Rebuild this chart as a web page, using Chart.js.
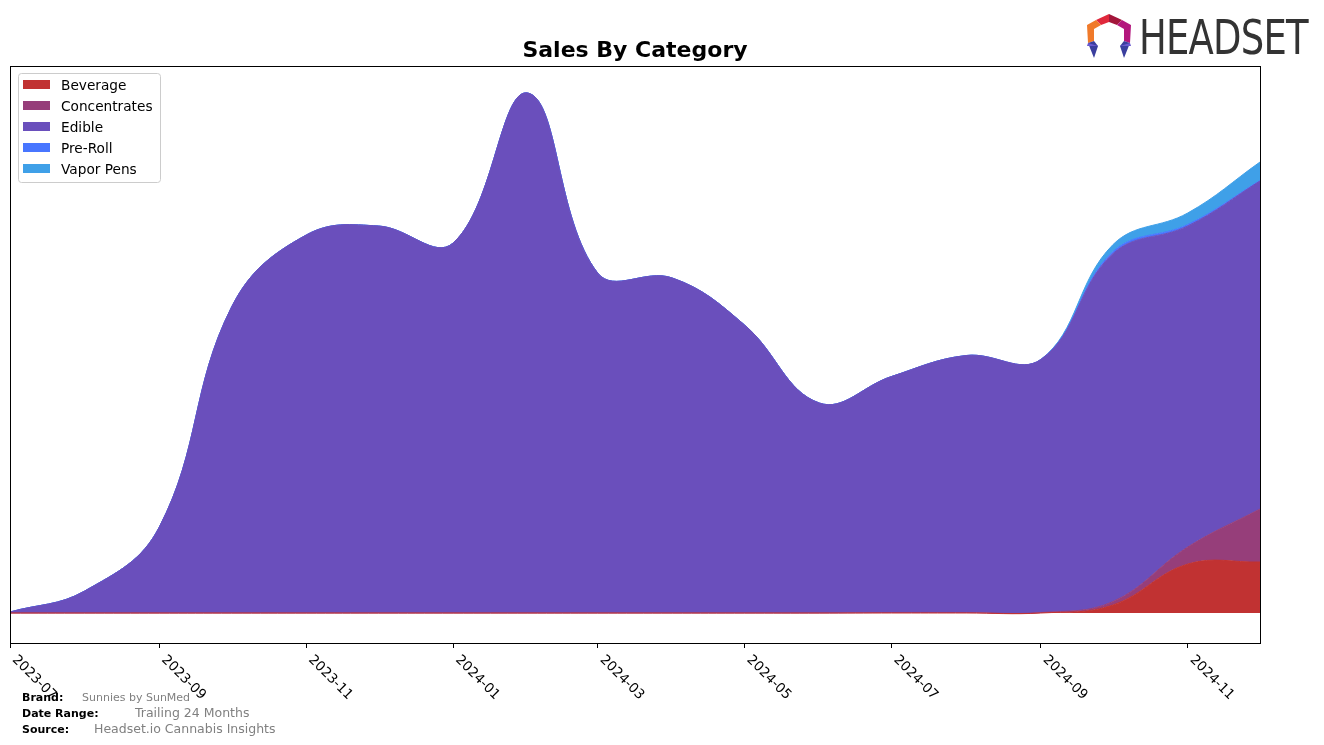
<!DOCTYPE html>
<html>
<head>
<meta charset="utf-8">
<script src="https://cdn.jsdelivr.net/npm/chart.js@4.4.1/dist/chart.umd.min.js"></script>
<style>
  html, body { margin: 0; padding: 0; background: #fff; }
  #wrap { position: relative; width: 1324px; height: 745px; font-family: "DejaVu Sans", sans-serif; }
  #c { position: absolute; left: 0; top: 0; }
  .foot { position: absolute; white-space: nowrap; line-height: 1; }
  .lbl { font-weight: bold; font-size: 11px; color: #000; }
  .val { color: #808080; }
  #logoText { position: absolute; left: 1139px; top: 13px; font-family: "DejaVu Sans", sans-serif; font-size: 48px; color: #333; transform-origin: 0 0; transform: scaleX(0.77); letter-spacing: -1px; line-height: 1; }
</style>
</head>
<body>
<div id="wrap">
  <canvas id="c" width="1324" height="745"></canvas>
  <svg style="position:absolute;left:1084px;top:13px" width="50" height="48" viewBox="0 0 50 48">
    <polygon points="25,1 12,7 17,12 25,9" fill="#e0283c"/>
    <polygon points="25,1 38,7 33,12 25,9" fill="#a3163a"/>
    <polygon points="12,7 3,12 4,30 10,28 10,16 17,12" fill="#f07a2a"/>
    <polygon points="38,7 47,12 46,30 40,28 40,16 33,12" fill="#b3177d"/>
    <polygon points="4,30 10,28 14,33 10,45" fill="#3a3f9e"/>
    <polygon points="4,30 14,33 3,33" fill="#6a5ad0"/>
    <polygon points="46,30 40,28 36,33 40,45" fill="#3a3f9e"/>
    <polygon points="46,30 36,33 47,33" fill="#6a5ad0"/>
  </svg>
  <div id="logoText">HEADSET</div>
  <div class="foot lbl" style="left:22px;top:692px;">Brand:</div>
  <div class="foot val" style="left:82px;top:692px;font-size:11px;">Sunnies by SunMed</div>
  <div class="foot lbl" style="left:22px;top:708px;">Date Range:</div>
  <div class="foot val" style="left:135px;top:707px;font-size:12.5px;">Trailing 24 Months</div>
  <div class="foot lbl" style="left:22px;top:724px;">Source:</div>
  <div class="foot val" style="left:94px;top:723px;font-size:12.5px;">Headset.io Cannabis Insights</div>
</div>
<script>
// ---- Data ----
const months = ["2023-07","2023-08","2023-09","2023-10","2023-11","2023-12",
                "2024-01","2024-02","2024-03","2024-04","2024-05","2024-06",
                "2024-07","2024-08","2024-09","2024-10","2024-11","2024-12"];
const tickMonths = ["2023-07","2023-09","2023-11","2024-01","2024-03","2024-05","2024-07","2024-09","2024-11"];
const seriesNames = ["Beverage","Concentrates","Edible","Pre-Roll","Vapor Pens"];
const beverage     = [0,0,0,0,0,0, 0,0,0,0,0,0, 0,0,0,800,4900,5100];
const concentrates = [0,0,0,0,0,0, 0,0,0,0,0,0, 50,50,50,350,1700,5300];
const edible       = [100,2200,8600,30600,37800,38700, 37000,52000,34000,33500,28800,21000, 23600,25700,25300,34800,32100,32800];
const preRoll      = [0,0,0,0,0,0, 0,0,0,0,0,0, 0,0,0,200,150,50];
const vaporPens    = [0,0,0,0,0,0, 0,0,0,0,0,0, 0,0,0,700,1150,1850];
const colors = ["#c13232","#963e7a","#6a4fbc","#4876ff","#3fa0e8"];

// ---- helpers ----
function dayIndex(m) {
  const [y, mo] = m.split("-").map(Number);
  return (Date.UTC(y, mo - 1, 1) - Date.UTC(2023, 6, 1)) / 86400000;
}
const xs = months.map(dayIndex);
const tickXs = tickMonths.map(dayIndex);
const allSeries = [beverage, concentrates, edible, preRoll, vaporPens];

const datasets = allSeries.map((vals, i) => ({
  label: seriesNames[i],
  data: vals.map((v, j) => ({x: xs[j], y: v})),
  backgroundColor: colors[i],
  borderColor: colors[i],
  borderWidth: 1,
  pointRadius: 0,
  tension: 0.4,
  fill: i === 0 ? 'origin' : '-1'
}));

const framePlugin = {
  id: 'frame',
  afterDraw(chart) {
    const {ctx, chartArea: a} = chart;
    ctx.save();
    ctx.strokeStyle = '#000';
    ctx.lineWidth = 1;
    ctx.strokeRect(Math.round(a.left) + 0.5, Math.round(a.top) + 0.5, Math.round(a.right - a.left), Math.round(a.bottom - a.top));
    // rotated x tick labels
    const xScale = chart.scales.x;
    ctx.fillStyle = '#000';
    ctx.font = '13.5px "DejaVu Sans"';
    ctx.textAlign = 'left';
    ctx.textBaseline = 'top';
    xScale.ticks.forEach((t, i) => {
      const px = xScale.getPixelForValue(t.value);
      ctx.save();
      ctx.translate(px + 9, a.bottom + 10);
      ctx.rotate(Math.PI / 4);
      ctx.fillText(tickMonths[i], 0, 0);
      ctx.restore();
    });
    // legend
    const lx = 18, ly = 73, lw = 142, lh = 109;
    ctx.beginPath();
    ctx.fillStyle = 'rgba(255,255,255,0.8)';
    ctx.strokeStyle = '#cccccc';
    ctx.roundRect(lx + 0.5, ly + 0.5, lw, lh, 3);
    ctx.fill();
    ctx.stroke();
    ctx.textBaseline = 'middle';
    ctx.font = '13.7px "DejaVu Sans"';
    chart.data.datasets.forEach((ds, i) => {
      const cy = 85 + i * 21;
      ctx.fillStyle = ds.backgroundColor;
      ctx.fillRect(23, cy - 5, 27, 9);
      ctx.fillStyle = '#000';
      ctx.fillText(ds.label, 61, cy + 1);
    });
    ctx.restore();
  }
};

new Chart(document.getElementById('c'), {
  type: 'line',
  data: { datasets },
  options: {
    responsive: false,
    animation: false,
    devicePixelRatio: 1,
    layout: { padding: { left: 10, right: 64, top: 30, bottom: 97 } },
    plugins: {
      legend: { display: false },
      tooltip: { enabled: false },
      title: {
        display: true,
        text: 'Sales By Category',
        color: '#000',
        font: { family: 'DejaVu Sans', size: 22, weight: 'bold' },
        padding: { top: 8, bottom: 1.6 }
      }
    },
    scales: {
      x: {
        type: 'linear',
        min: 0,
        max: xs[xs.length - 1],
        afterBuildTicks(scale) { scale.ticks = tickXs.map(v => ({value: v})); },
        grid: { display: true, drawOnChartArea: false, drawTicks: true, tickLength: 5, color: '#000' },
        border: { display: false },
        ticks: { display: false }
      },
      y: {
        display: false,
        stacked: true,
        min: -3000,
        max: 54700
      }
    }
  },
  plugins: [framePlugin]
});
</script>
</body>
</html>
